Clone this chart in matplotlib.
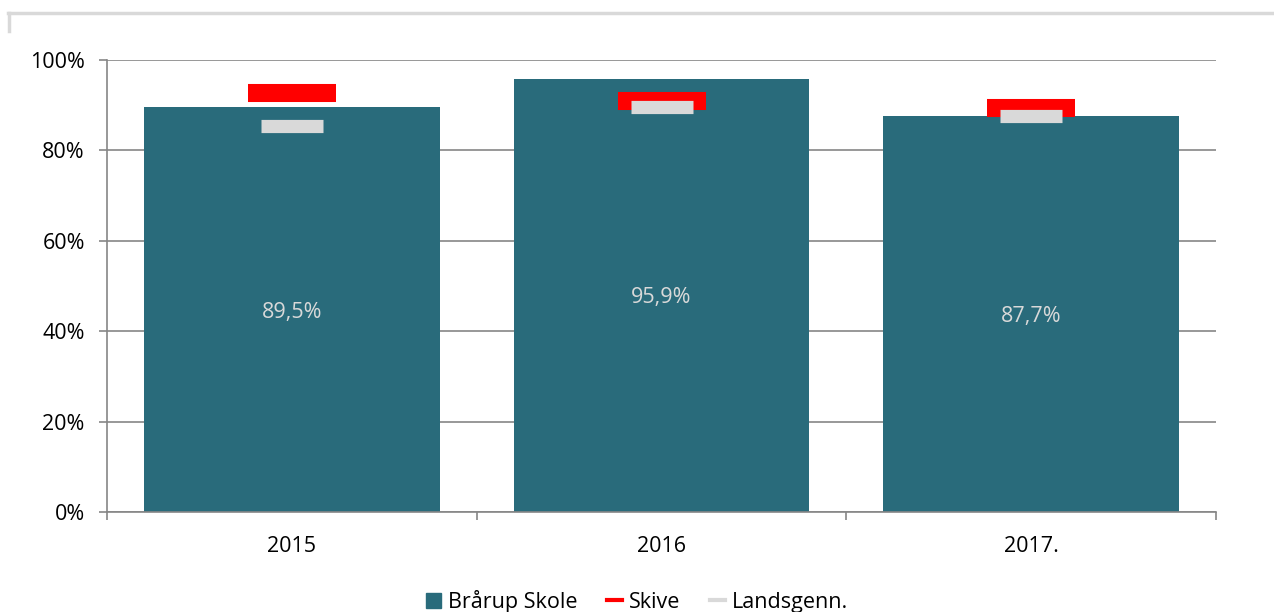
import matplotlib.pyplot as plt
from matplotlib.lines import Line2D
from matplotlib.ticker import FixedLocator, FuncFormatter

years = ['2015', '2016', '2017.']
braarup = [89.5, 95.9, 87.7]
skive = [92.7, 90.9, 89.4]
landsgenn = [85.5, 89.5, 87.7]
bar_labels = ['89,5%', '95,9%', '87,7%']
series_names = ['Brårup Skole', 'Skive', 'Landsgenn.']

plt.rcParams['font.family'] = ['Open Sans', 'DejaVu Sans']
fs = 15.5

fig = plt.figure(figsize=(12.74, 6.12), dpi=100)
ax = fig.add_axes([0.084, 0.1634, 0.8705, 0.7386])

x = list(range(len(years)))
ax.bar(x, braarup, width=0.8, color='#296B7B', zorder=2)
ax.plot(x, skive, linestyle='none', marker='_', markersize=64, markeredgewidth=13,
        color='#FF0000', zorder=3)
ax.plot(x, landsgenn, linestyle='none', marker='_', markersize=45, markeredgewidth=9.5,
        color='#D9D9D9', zorder=4)

for xi, v, lab in zip(x, braarup, bar_labels):
    ax.text(xi, v / 2, lab, ha='center', va='center_baseline', color='#D9D9D9',
            fontsize=fs, zorder=5)

ax.set_xlim(-0.5, 2.5)
ax.set_ylim(0, 100)
ax.yaxis.set_major_locator(FixedLocator([0, 20, 40, 60, 80, 100]))
ax.yaxis.set_major_formatter(FuncFormatter(lambda v, p: f'{v:.0f}%'))
ax.set_xticks(x)
ax.set_xticklabels(years)
ax.xaxis.set_minor_locator(FixedLocator([-0.5, 0.5, 1.5, 2.5]))
ax.tick_params(axis='x', which='major', length=0, pad=17, labelsize=fs)
ax.tick_params(axis='x', which='minor', length=6, color='#868686', width=1.2)
ax.tick_params(axis='y', length=6, color='#868686', width=1.2, labelsize=fs, pad=10)

ax.grid(axis='y', color='#868686', linewidth=1.2, zorder=0)
ax.set_axisbelow(True)
for s in ['top', 'right']:
    ax.spines[s].set_visible(False)
for s in ['left', 'bottom']:
    ax.spines[s].set_color('#868686')
    ax.spines[s].set_linewidth(1.2)

handles = [
    plt.Rectangle((0, 0), 1, 1, color='#296B7B'),
    Line2D([], [], color='#FF0000', linewidth=3),
    Line2D([], [], color='#D9D9D9', linewidth=3),
]
fig.legend(handles, series_names, loc='lower center',
           bbox_to_anchor=(0.5, -0.033), ncol=3, frameon=False, fontsize=fs,
           handlelength=0.7, handleheight=0.7, handletextpad=0.3, columnspacing=1.4)

# partial outer chart border
fig.add_artist(Line2D([8 / 1274, 1], [1 - 13 / 612, 1 - 13 / 612], color='#D9D9D9', linewidth=2.5))
fig.add_artist(Line2D([9 / 1274, 9 / 1274], [1 - 13 / 612, 1 - 31 / 612], color='#D9D9D9', linewidth=2.5))

fig.savefig('out.png', dpi=100)
